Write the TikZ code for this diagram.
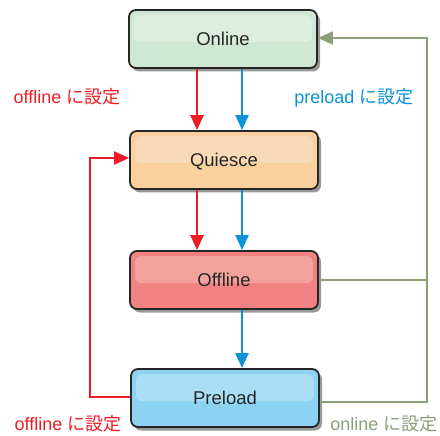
\documentclass[tikz,border=0pt]{standalone}
\usepackage{fontspec}
\setmainfont{Liberation Sans}
\newfontfamily\cjk{Noto Sans CJK JP}
\usetikzlibrary{arrows.meta,shadows,calc}
\definecolor{cred}{HTML}{EE1C25}
\definecolor{cblue}{HTML}{0A93D6}
\definecolor{cgreen}{HTML}{8A9E78}
\definecolor{onB}{HTML}{CFE7D5}
\definecolor{onT}{HTML}{DDEEE1}
\definecolor{quB}{HTML}{FBD09F}
\definecolor{quT}{HTML}{F9DAB6}
\definecolor{ofB}{HTML}{F28281}
\definecolor{ofT}{HTML}{F3A19C}
\definecolor{prB}{HTML}{8CD3F3}
\definecolor{prT}{HTML}{A9DEF4}
\begin{document}
\begin{tikzpicture}[x=1pt,y=-1pt,
  statebox/.style 2 args={draw=black!85, line width=1.8pt, rounded corners=7pt,
    minimum width=188pt, minimum height=58pt, fill=#1, inner sep=0pt,
    text height=13pt, text depth=0pt,
    font=\fontsize{18.5}{20}\selectfont, text=black!85,
    drop shadow={shadow xshift=3pt, shadow yshift=-3.5pt, fill=black!40, opacity=1},
    path picture={\fill[#2, rounded corners=6pt]
      ($(path picture bounding box.north west)+(5pt,-5pt)$) rectangle
      ($(path picture bounding box.east)+(-5pt,-3pt)$);}},
  lbl/.style={font=\fontsize{18}{20}\selectfont},
  arr/.style={line width=2.3pt, -{Triangle[length=15pt,width=13pt]}},
  plain/.style={line width=2.3pt}
]
\useasboundingbox (0,0) rectangle (440,436);
\node[statebox={onB}{onT}] (on) at (223,39) {Online};
\node[statebox={quB}{quT}] (qu) at (224,160) {Quiesce};
\node[statebox={ofB}{ofT}] (of) at (224,280) {Offline};
\node[statebox={prB}{prT}] (pr) at (225,398) {Preload};

% red offline arrows
\draw[arr, cred] (on.south -| 197,0) -- (qu.north -| 197,0);
\draw[arr, cred] (qu.south -| 197,0) -- (of.north -| 197,0);
% blue preload arrows
\draw[arr, cblue] (on.south -| 242,0) -- (qu.north -| 242,0);
\draw[arr, cblue] (qu.south -| 242,0) -- (of.north -| 242,0);
\draw[arr, cblue] (of.south -| 242,0) -- (pr.north -| 242,0);

% red from Preload back to Quiesce
\coordinate (rl) at (90,0);
\draw[arr, cred] (pr.west |- 0,397) -| (rl |- 0,280) |- (qu.west |- 0,158);

% green online arrows
\coordinate (gr) at (427,0);
\draw[plain, cgreen, line width=2pt] (of.east |- 0,280) -- (gr |- 0,280);
\draw[arr, cgreen, line width=2pt] (pr.east |- 0,402) -| (gr |- 0,200) |- (on.east |- 0,38);

% labels
\node[lbl, text=cred] (l1) at (67,97) {offline {\cjk に設定}};
\node[lbl, text=cblue] (l2) at (354,98) {preload {\cjk に設定}};
\node[lbl, text=cred] (l3) at (68,424) {offline {\cjk に設定}};
\node[lbl, text=cgreen] (l4) at (384,424) {online {\cjk に設定}};
\end{tikzpicture}
\end{document}
